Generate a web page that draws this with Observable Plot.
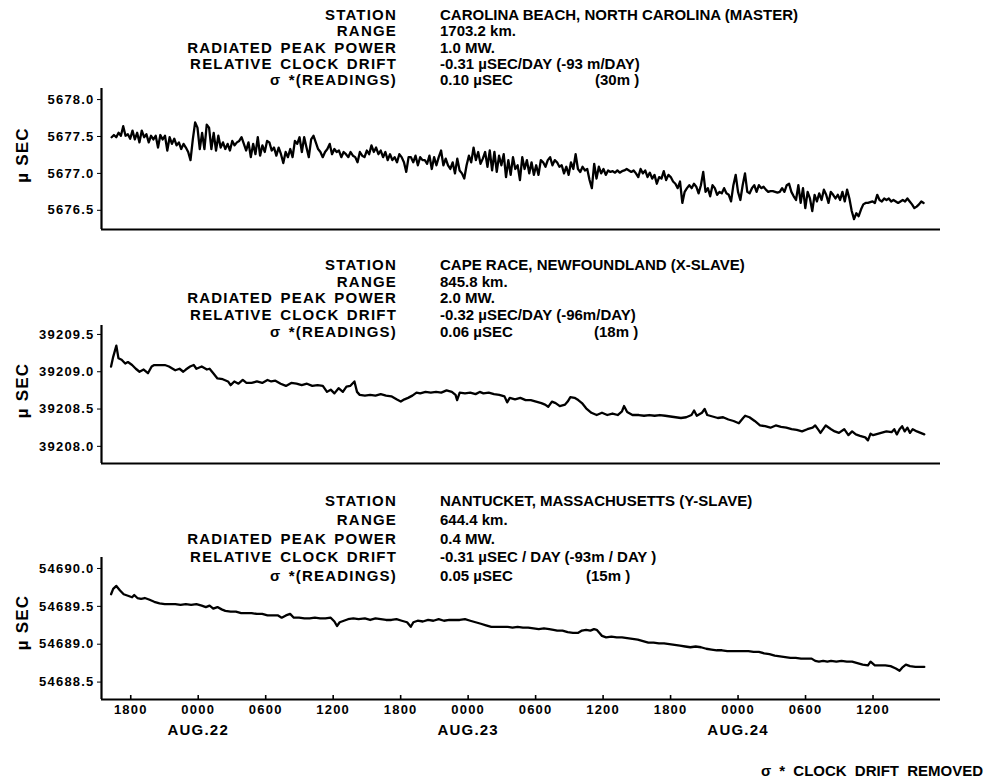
<!DOCTYPE html>
<html>
<head>
<meta charset="utf-8">
<script src="https://cdn.jsdelivr.net/npm/d3@7"></script>
<script src="https://cdn.jsdelivr.net/npm/@observablehq/plot@0.6"></script>
<style>
  body { margin: 0; background: #fff; }
  #root { position: relative; width: 999px; height: 784px; overflow: hidden; background: #fff;
          font-family: "Liberation Sans", Arial, sans-serif; color: #000; }
  .panel { position: absolute; left: 0; }
  .hdr { position: absolute; font-size: 15px; font-weight: bold; white-space: pre; z-index: 2; }
  .hdr.l { left: 0; width: 397px; text-align: right; letter-spacing: 1.2px; word-spacing: 2px; }
  .hdr.r { left: 440px; }
  .hdr.r .c { display: inline-block; }
  .caption { position: absolute; right: 16px; top: 762px; font-size: 15px; font-weight: bold; word-spacing: 4px; z-index: 2; }
</style>
</head>
<body>
<div id="root"></div>
<script>
// ---------------- data ----------------
const headerLabels = ["STATION", "RANGE", "RADIATED PEAK POWER", "RELATIVE CLOCK DRIFT", "σ *(READINGS)"];

const carolinaInfo = ["CAROLINA BEACH, NORTH CAROLINA (MASTER)", "1703.2 km.", "1.0 MW.", "-0.31 µSEC/DAY (-93 m/DAY)"];
const carolinaSigma = ["0.10 µSEC", "(30m )"];
const capeRaceInfo = ["CAPE RACE, NEWFOUNDLAND (X-SLAVE)", "845.8 km.", "2.0 MW.", "-0.32 µSEC/DAY (-96m/DAY)"];
const capeRaceSigma = ["0.06 µSEC", "(18m )"];
const nantucketInfo = ["NANTUCKET, MASSACHUSETTS (Y-SLAVE)", "644.4 km.", "0.4 MW.", "-0.31 µSEC / DAY (-93m / DAY )"];
const nantucketSigma = ["0.05 µSEC", "(15m )"];

const yLabel = "µ SEC";
const captionText = "σ * CLOCK DRIFT REMOVED";

// hours counted from 1800 on Aug. 21
const hourTicks = [0, 6, 12, 18, 24, 30, 36, 42, 48, 54, 60, 66];
const hourTickLabels = ["1800", "0000", "0600", "1200", "1800", "0000", "0600", "1200", "1800", "0000", "0600", "1200"];
const dayTicks = [6, 30, 54];
const dayLabels = ["AUG.22", "AUG.23", "AUG.24"];

const carolinaTicks = [5676.5, 5677.0, 5677.5, 5678.0];
const capeRaceTicks = [39208.0, 39208.5, 39209.0, 39209.5];
const nantucketTicks = [54688.5, 54689.0, 54689.5, 54690.0];

// Carolina Beach: readings at regular intervals from hour -1.7 to hour 70.5
const carolinaFirstHour = -1.7;
const carolinaLastHour = 70.5;
const carolinaValues = [
  5677.49,5677.52,5677.49,5677.55,5677.51,5677.64,5677.51,5677.53,5677.47,5677.58,
  5677.46,5677.55,5677.42,5677.58,5677.49,5677.53,5677.42,5677.51,5677.46,5677.51,
  5677.35,5677.52,5677.46,5677.51,5677.31,5677.49,5677.40,5677.47,5677.38,5677.42,
  5677.33,5677.40,5677.35,5677.29,5677.18,5677.46,5677.69,5677.62,5677.33,5677.55,
  5677.33,5677.66,5677.62,5677.33,5677.55,5677.31,5677.51,5677.35,5677.42,5677.33,
  5677.40,5677.31,5677.44,5677.38,5677.42,5677.44,5677.49,5677.40,5677.31,5677.42,
  5677.22,5677.40,5677.26,5677.49,5677.24,5677.38,5677.29,5677.44,5677.42,5677.31,
  5677.35,5677.24,5677.35,5677.26,5677.14,5677.29,5677.22,5677.33,5677.22,5677.44,
  5677.40,5677.49,5677.29,5677.49,5677.35,5677.22,5677.46,5677.51,5677.42,5677.33,
  5677.29,5677.22,5677.29,5677.33,5677.40,5677.26,5677.33,5677.29,5677.31,5677.22,
  5677.29,5677.26,5677.22,5677.29,5677.24,5677.22,5677.15,5677.29,5677.24,5677.22,
  5677.31,5677.26,5677.38,5677.29,5677.35,
  5677.26,5677.31,5677.22,5677.29,5677.18,5677.26,5677.18,5677.22,5677.15,5677.26,
  5677.22,5677.15,5677.02,5677.22,5677.22,5677.15,5677.24,5677.11,5677.22,5677.18,
  5677.18,5677.13,5677.24,5677.06,5677.22,5677.11,5677.22,5677.31,5677.11,5677.20,
  5677.11,5677.06,5677.15,5677.00,5677.20,5677.04,5677.00,5676.93,5677.11,5677.24,
  5677.15,5677.35,5677.18,5677.29,5677.13,5677.20,5677.29,5677.09,5677.31,5677.04,
  5677.29,5677.02,5677.24,5677.11,5677.26,5676.95,5677.18,5676.98,5677.22,5677.06,
  5677.11,5676.91,5677.22,5677.06,5677.18,5677.00,5677.15,5676.98,5677.11,5676.98,
  5677.18,5677.15,5677.09,5677.18,5677.22,5677.11,5677.18,5677.15,5677.09,5677.11,
  5677.00,5677.09,5676.98,5677.15,5677.06,5677.26,5677.06,5677.02,5677.09,5677.04,
  5677.06,5676.91,5676.80,5677.13,5676.93,5677.09,5677.00,5677.06,5676.98,5677.04,
  5677.02,5677.03,5677.01,5677.04,5677.01,5677.03,5677.04,5677.06,
  5677.04,5677.02,5677.04,5677.00,5676.95,5677.06,5677.00,5677.04,5676.95,5677.01,
  5676.93,5676.98,5676.86,5676.95,5676.93,5677.03,5676.91,5676.98,5676.95,5676.89,
  5676.86,5676.80,5676.89,5676.60,5676.75,5676.80,5676.84,5676.80,5676.86,5676.82,
  5676.73,5676.84,5677.02,5676.75,5676.80,5676.69,5676.84,5676.80,5676.71,5676.75,
  5676.73,5676.80,5676.73,5676.71,5676.62,5676.84,5676.98,5676.75,5676.64,5676.84,
  5677.00,5676.75,5676.73,5676.80,5676.84,5676.75,5676.84,5676.80,5676.82,5676.78,
  5676.75,5676.76,5676.76,5676.75,5676.74,5676.75,5676.80,5676.75,5676.84,5676.86,
  5676.75,5676.69,5676.64,5676.84,5676.60,5676.80,5676.53,5676.75,5676.66,5676.49,
  5676.71,5676.62,5676.73,5676.64,5676.78,5676.71,5676.60,5676.75,5676.71,5676.66,
  5676.71,5676.64,5676.75,5676.62,5676.78,5676.66,5676.49,5676.38,5676.46,5676.42,
  5676.51,5676.58,5676.60,5676.60,5676.61,5676.62,5676.60,5676.71,5676.64,5676.62,
  5676.66,5676.64,5676.66,5676.62,5676.64,5676.62,5676.60,5676.62,5676.64,5676.62,
  5676.66,5676.62,5676.58,5676.53,5676.55,5676.58,5676.62,5676.60
];

// Cape Race
const capeRaceHours = [
  -1.75,-1.56,-1.28,-1.09,-0.81,-0.49,-0.25,0.12,0.45,0.78,1.15,1.53,1.86,2.09,2.56,3.03,3.40,3.73,3.96,4.34,
  4.67,4.90,5.28,5.60,5.84,6.31,6.77,7.01,7.34,7.71,8.18,8.65,8.88,9.21,9.58,9.96,10.29,10.75,11.22,11.69,
  12.16,12.49,12.86,13.33,13.80,14.27,14.74,15.20,15.67,16.14,16.61,17.08,17.45,17.78,18.11,18.48,18.86,19.18,19.51,19.89,
  20.12,20.36,20.82,21.29,21.76,22.23,22.70,23.17,23.63,24.01,24.34,24.66,25.04,25.41,25.74,26.21,26.68,27.15,27.61,28.08,
  28.55,28.88,29.02,29.25,29.72,30.19,30.66,31.03,31.36,31.83,32.30,32.77,33.23,33.47,33.70,34.17,34.64,35.11,35.57,36.04,
  36.51,36.84,37.12,37.45,37.78,38.15,38.62,38.85,39.09,39.46,39.79,40.12,40.49,40.96,41.43,41.90,42.37,42.83,43.30,43.68,
  43.86,44.14,44.61,45.18,45.64,46.11,46.58,47.05,47.52,47.98,48.45,48.92,49.39,49.86,50.09,50.33,50.79,51.03,51.26,51.73,
  52.20,52.67,53.14,53.60,54.07,54.45,54.63,55.01,55.48,55.95,56.41,56.88,57.35,57.82,58.29,58.76,59.22,59.69,60.16,60.63,
  60.86,61.10,61.33,61.80,62.27,62.60,62.97,63.44,63.81,64.14,64.47,64.84,65.31,65.55,65.78,66.01,66.25,66.72,67.19,67.65,
  67.89,68.12,68.36,68.59,68.82,69.06,69.29,69.53,69.90,70.23,70.56
];
const capeRaceValues = [
  39209.07,39209.20,39209.35,39209.18,39209.16,39209.11,39209.13,39209.09,39209.04,39209.00,39209.03,39208.98,39209.07,39209.09,39209.09,39209.09,39209.07,39209.04,39209.02,39209.04,
  39209.00,39209.03,39209.07,39209.09,39209.04,39209.07,39209.03,39209.04,39208.98,39208.91,39208.90,39208.87,39208.82,39208.87,39208.84,39208.89,39208.85,39208.85,39208.87,39208.85,
  39208.89,39208.87,39208.88,39208.84,39208.81,39208.85,39208.84,39208.82,39208.84,39208.81,39208.82,39208.81,39208.73,39208.76,39208.71,39208.78,39208.73,39208.80,39208.81,39208.87,
  39208.73,39208.69,39208.68,39208.69,39208.68,39208.70,39208.68,39208.67,39208.63,39208.60,39208.63,39208.65,39208.68,39208.72,39208.71,39208.73,39208.72,39208.73,39208.72,39208.75,
  39208.73,39208.69,39208.62,39208.72,39208.71,39208.72,39208.70,39208.73,39208.71,39208.72,39208.70,39208.69,39208.67,39208.59,39208.65,39208.63,39208.65,39208.62,39208.62,39208.60,
  39208.58,39208.56,39208.53,39208.60,39208.58,39208.54,39208.56,39208.60,39208.66,39208.65,39208.62,39208.58,39208.51,39208.45,39208.42,39208.45,39208.42,39208.44,39208.42,39208.47,
  39208.54,39208.46,39208.42,39208.42,39208.41,39208.42,39208.41,39208.42,39208.41,39208.40,39208.39,39208.38,39208.39,39208.42,39208.48,39208.41,39208.45,39208.50,39208.42,39208.40,
  39208.38,39208.39,39208.36,39208.34,39208.31,39208.38,39208.41,39208.39,39208.34,39208.28,39208.27,39208.25,39208.28,39208.26,39208.25,39208.23,39208.22,39208.20,39208.23,39208.25,
  39208.28,39208.23,39208.18,39208.28,39208.23,39208.20,39208.18,39208.23,39208.15,39208.20,39208.16,39208.14,39208.12,39208.08,39208.17,39208.15,39208.16,39208.18,39208.20,39208.19,
  39208.23,39208.16,39208.23,39208.27,39208.20,39208.25,39208.18,39208.23,39208.20,39208.18,39208.16
];

// Nantucket
const nantucketHours = [
  -1.75,-1.56,-1.28,-0.95,-0.63,-0.25,0.12,0.31,0.59,0.92,1.25,1.62,2.09,2.56,3.03,3.50,3.96,4.43,4.90,5.37,
  5.84,6.31,6.68,7.01,7.34,7.71,8.08,8.41,8.88,9.35,9.82,10.29,10.75,11.22,11.69,12.16,12.63,13.10,13.42,13.80,
  14.17,14.50,14.97,15.44,15.91,16.37,16.84,17.31,17.78,18.11,18.34,18.58,18.95,19.32,19.79,20.26,20.82,21.29,21.76,22.23,
  22.70,23.17,23.63,24.10,24.57,24.90,25.13,25.51,25.97,26.44,26.91,27.38,27.85,28.32,28.78,29.25,29.72,30.19,30.66,31.13,
  31.59,32.06,32.53,33.00,33.47,33.94,34.40,34.87,35.34,35.81,36.28,36.74,37.21,37.59,37.92,38.39,38.85,39.32,39.79,40.12,
  40.49,40.87,41.19,41.43,41.66,41.90,42.27,42.74,43.21,43.68,44.14,44.61,45.08,45.55,46.02,46.49,46.96,47.42,47.89,48.36,
  48.83,49.30,49.76,50.23,50.70,51.17,51.64,52.11,52.57,53.04,53.51,53.98,54.45,54.92,55.38,55.85,56.32,56.79,57.26,57.73,
  58.19,58.66,59.13,59.60,60.07,60.54,60.86,61.19,61.57,61.94,62.27,62.74,63.20,63.67,64.14,64.61,65.08,65.55,65.78,66.16,
  66.62,67.09,67.56,68.03,68.36,68.59,68.92,69.29,69.76,70.23,70.56
];
const nantucketValues = [
  54689.66,54689.73,54689.77,54689.71,54689.66,54689.64,54689.62,54689.65,54689.61,54689.60,54689.61,54689.59,54689.56,54689.54,54689.53,54689.53,54689.53,54689.52,54689.53,54689.52,
  54689.53,54689.51,54689.49,54689.51,54689.47,54689.49,54689.46,54689.44,54689.43,54689.43,54689.41,54689.41,54689.41,54689.40,54689.40,54689.38,54689.38,54689.38,54689.35,54689.38,
  54689.40,54689.35,54689.35,54689.34,54689.34,54689.35,54689.34,54689.34,54689.35,54689.30,54689.24,54689.29,54689.31,54689.33,54689.34,54689.33,54689.34,54689.32,54689.34,54689.33,
  54689.32,54689.32,54689.33,54689.31,54689.29,54689.23,54689.29,54689.31,54689.30,54689.32,54689.31,54689.33,54689.31,54689.32,54689.32,54689.32,54689.33,54689.31,54689.29,54689.27,
  54689.25,54689.23,54689.23,54689.23,54689.23,54689.22,54689.23,54689.22,54689.22,54689.21,54689.20,54689.21,54689.20,54689.19,54689.18,54689.18,54689.16,54689.15,54689.15,54689.18,
  54689.19,54689.18,54689.20,54689.19,54689.15,54689.11,54689.09,54689.10,54689.09,54689.09,54689.08,54689.07,54689.06,54689.04,54689.02,54689.02,54689.01,54689.01,54689.00,54688.99,
  54688.98,54688.97,54688.96,54688.97,54688.96,54688.94,54688.93,54688.92,54688.92,54688.91,54688.91,54688.91,54688.91,54688.91,54688.90,54688.90,54688.88,54688.87,54688.85,54688.84,
  54688.83,54688.82,54688.82,54688.81,54688.81,54688.81,54688.78,54688.77,54688.78,54688.77,54688.78,54688.77,54688.78,54688.77,54688.77,54688.75,54688.73,54688.72,54688.77,54688.72,
  54688.72,54688.72,54688.71,54688.68,54688.65,54688.69,54688.73,54688.71,54688.70,54688.70,54688.70
];

// ---------------- drawing ----------------
const xDomain = [-2.6, 72];
const FONT = '"Liberation Sans", Arial, sans-serif';
const root = document.getElementById("root");
const MARGIN_LEFT = 101, MARGIN_RIGHT = 59, WIDTH = 999;

const carolinaData = carolinaValues.map((v, i) => ({
  h: carolinaFirstHour + (carolinaLastHour - carolinaFirstHour) * i / (carolinaValues.length - 1), v
}));
const capeRaceData = capeRaceHours.map((h, i) => ({h, v: capeRaceValues[i]}));
const nantucketData = nantucketHours.map((h, i) => ({h, v: nantucketValues[i]}));

function panel({data, yDomain, yTicks, top, height, marginTop, marginBottom, labelDy, showX}) {
  const frameH = height - marginTop - marginBottom;
  const frameCenterX = (MARGIN_LEFT + WIDTH - MARGIN_RIGHT) / 2;
  const marks = [
    Plot.ruleX([xDomain[0]], {strokeWidth: 2.2}),
    Plot.ruleY([yDomain[0]], {strokeWidth: 2.2}),
    Plot.line(data, {x: "h", y: "v", strokeWidth: 2.3, strokeLinejoin: "round", strokeLinecap: "round"}),
    Plot.text([yLabel], {frameAnchor: "middle", textAnchor: "middle", dx: 22 - frameCenterX, dy: labelDy,
      rotate: -90, fontSize: 17, fontWeight: "bold"})
  ];
  if (showX) {
    marks.push(Plot.ruleX(hourTicks, {x: d => d, insetTop: frameH - 4, strokeWidth: 1.6}));
    marks.push(Plot.text(dayTicks, {x: d => d, text: (d, i) => dayLabels[i], frameAnchor: "bottom",
      dy: 31, lineAnchor: "middle", fontSize: 15, fontWeight: "bold"}));
  }
  const svg = Plot.plot({
    width: WIDTH, height, marginLeft: MARGIN_LEFT, marginRight: MARGIN_RIGHT, marginTop, marginBottom,
    style: {fontFamily: FONT, fontSize: "13px", fontWeight: "bold", background: "transparent", color: "#000", overflow: "visible"},
    x: {domain: xDomain, axis: showX ? "bottom" : null, ticks: hourTicks,
        tickFormat: d => hourTickLabels[hourTicks.indexOf(d)], tickSize: 0, tickPadding: 5, label: null},
    y: {domain: yDomain, ticks: yTicks, tickFormat: d => d.toFixed(1), tickSize: 4, tickPadding: 3, label: null},
    marks
  });
  svg.classList.add("panel");
  svg.style.top = top + "px";
  svg.style.letterSpacing = "1.2px";
  root.appendChild(svg);
}

panel({data: carolinaData, yDomain: [5676.24, 5678.15], yTicks: carolinaTicks, top: 0, height: 240, marginTop: 88, marginBottom: 11, labelDy: -4, showX: false});
panel({data: capeRaceData, yDomain: [39207.77, 39209.62], yTicks: capeRaceTicks, top: 250, height: 225, marginTop: 75, marginBottom: 12, labelDy: -4, showX: false});
panel({data: nantucketData, yDomain: [54688.27, 54690.145], yTicks: nantucketTicks, top: 480, height: 304, marginTop: 77, marginBottom: 85, labelDy: -6, showX: true});

function header(info, sigma, top, lineHeight, sigmaWidth) {
  const l = document.createElement("div");
  l.className = "hdr l";
  l.style.top = top + "px";
  l.style.lineHeight = lineHeight + "px";
  l.textContent = headerLabels.join("\n");
  root.appendChild(l);
  const r = document.createElement("div");
  r.className = "hdr r";
  r.style.top = top + "px";
  r.style.lineHeight = lineHeight + "px";
  r.textContent = info.join("\n") + "\n";
  const a = document.createElement("span"); a.className = "c"; a.style.width = sigmaWidth + "px"; a.textContent = sigma[0];
  const b = document.createElement("span"); b.textContent = sigma[1];
  r.appendChild(a); r.appendChild(b);
  root.appendChild(r);
}
header(carolinaInfo, carolinaSigma, 7, 16.3, 155);
header(capeRaceInfo, capeRaceSigma, 257, 16.7, 154);
header(nantucketInfo, nantucketSigma, 492, 18.8, 146);

const cap = document.createElement("div");
cap.className = "caption";
cap.textContent = captionText;
root.appendChild(cap);
</script>
</body>
</html>
